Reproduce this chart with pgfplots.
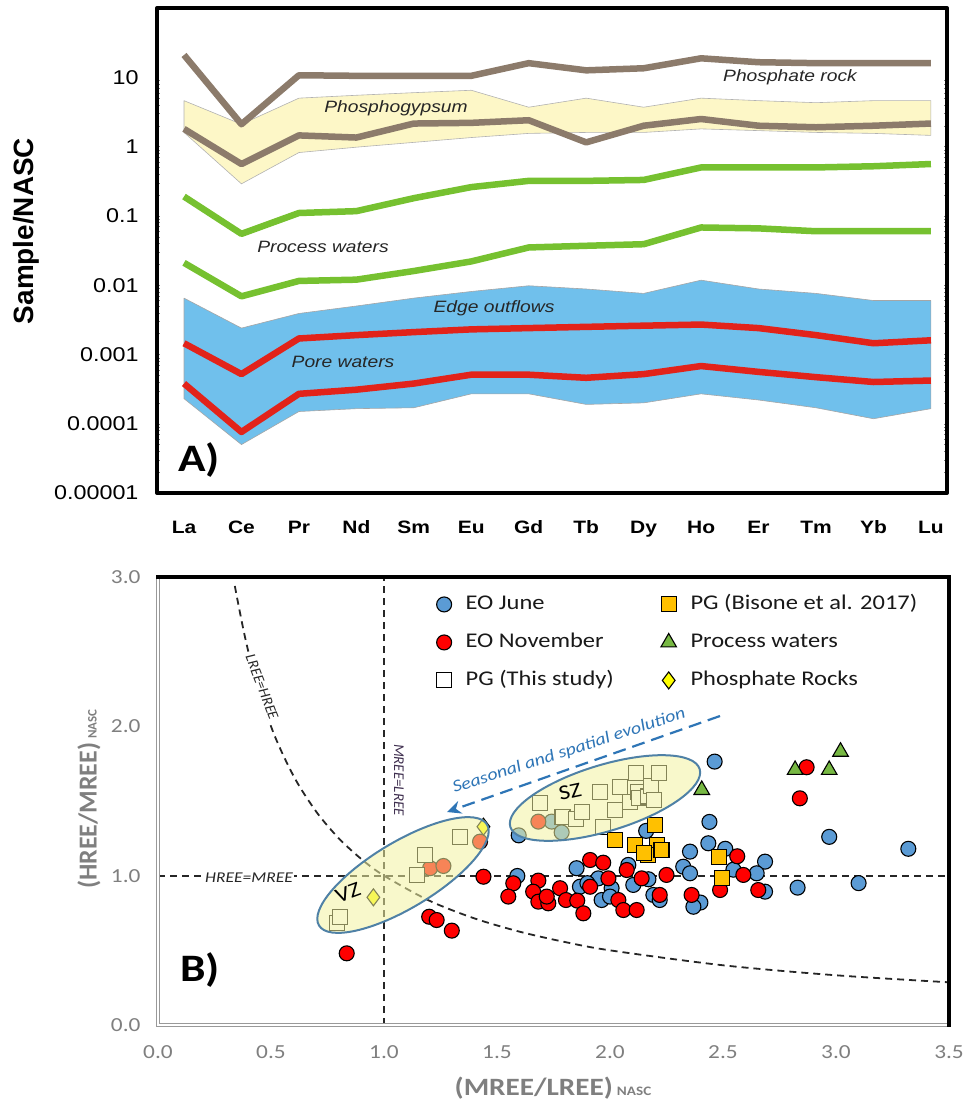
\documentclass[border=0pt]{standalone}
\usepackage{fontspec}
\usepackage{pgfplots}
\pgfplotsset{compat=1.18}
\usetikzlibrary{arrows.meta}
\newfontfamily\calS{Carlito}[FakeStretch=1.17]
\newfontfamily\calR{Carlito}
\newfontfamily\ariS{Liberation Sans}[FakeStretch=1.17]
\newfontfamily\ariR{Liberation Sans}
\definecolor{rockbrown}{HTML}{8C7B6B}
\definecolor{pwgreen}{HTML}{76C130}
\definecolor{porered}{HTML}{E2231A}
\definecolor{eoband}{HTML}{70C0EC}
\definecolor{pgband}{HTML}{FDF7C7}
\definecolor{eoblue}{HTML}{5B9BD5}
\definecolor{eored}{HTML}{FF0000}
\definecolor{pgorange}{HTML}{FFC000}
\definecolor{trigreen}{HTML}{77B843}
\definecolor{diayellow}{HTML}{FFFF00}
\definecolor{ellfill}{HTML}{F2F2A0}
\definecolor{elldraw}{HTML}{4F81A6}
\definecolor{evoblue}{HTML}{2E75B6}
\definecolor{titlegray}{HTML}{7F7F7F}
\begin{document}
\begin{tikzpicture}
\path[use as bounding box] (0bp,0bp) rectangle (963bp,-1106bp);

% ---------------- Panel A ----------------
\begin{axis}[
  at={(157bp,-8bp)}, anchor=north west,
  width=790bp, height=485bp, scale only axis,
  ymode=log, ymin=1e-5, ymax=100,
  xmin=-0.47, xmax=13.28,
  xtick={0,...,13},
  xticklabels={La,Ce,Pr,Nd,Sm,Eu,Gd,Tb,Dy,Ho,Er,Tm,Yb,Lu},
  ytick={1e-5,1e-4,1e-3,1e-2,1e-1,1,10},
  yticklabels={0.00001,0.0001,0.001,0.01,0.1,1,10},
  major tick length=0pt, minor tick num=0,
  axis line style={line width=4bp},
  xticklabel style={font=\ariS\bfseries\fontsize{18}{21}\selectfont, anchor=base, yshift=-40bp},
  yticklabel style={font=\ariS\fontsize{20}{24}\selectfont, anchor=east, xshift=-15bp},
  line join=round,
]
% Phosphogypsum band
\addplot[fill=pgband, draw=gray!60, line width=0.6bp] coordinates {
 (0,4.6)(1,2.1)(2,5)(3,5.5)(4,6)(5,6.5)(6,3.7)(7,5)(8,3.7)(9,5)(10,4.6)(11,4.3)(12,4.6)(13,4.6)
 (13,1.45)(12,1.55)(11,1.6)(10,1.7)(9,1.8)(8,1.6)(7,1.6)(6,1.55)(5,1.35)(4,1.15)(3,0.98)(2,0.82)(1,0.29)(0,1.6)} -- cycle;
% Edge outflows band
\addplot[fill=eoband, draw=gray!70, line width=0.6bp] coordinates {
 (0,0.0065)(1,0.0024)(2,0.0039)(3,0.005)(4,0.0065)(5,0.0081)(6,0.0098)(7,0.0088)(8,0.0076)(9,0.0118)(10,0.0088)(11,0.0076)(12,0.006)(13,0.006)
 (13,0.000165)(12,0.000118)(11,0.00017)(10,0.00022)(9,0.00027)(8,0.0002)(7,0.00019)(6,0.00027)(5,0.00027)(4,0.00017)(3,0.000165)(2,0.00015)(1,0.00005)(0,0.00023)} -- cycle;
% Phosphate rock
\addplot[rockbrown, line width=6.5bp] coordinates {
 (0,21)(1,2.1)(2,10.7)(3,10.5)(4,10.5)(5,10.5)(6,16)(7,12.6)(8,13.5)(9,18.8)(10,16.5)(11,16)(12,16)(13,16)};
% Phosphogypsum line
\addplot[rockbrown, line width=6.5bp] coordinates {
 (0,1.8)(1,0.56)(2,1.45)(3,1.35)(4,2.15)(5,2.2)(6,2.4)(7,1.15)(8,2.0)(9,2.5)(10,2.0)(11,1.9)(12,2.0)(13,2.15)};
% Process waters
\addplot[pwgreen, line width=6.5bp] coordinates {
 (0,0.19)(1,0.055)(2,0.11)(3,0.117)(4,0.18)(5,0.26)(6,0.32)(7,0.32)(8,0.33)(9,0.5)(10,0.5)(11,0.5)(12,0.52)(13,0.56)};
\addplot[pwgreen, line width=6.5bp] coordinates {
 (0,0.021)(1,0.0069)(2,0.0115)(3,0.012)(4,0.016)(5,0.022)(6,0.035)(7,0.037)(8,0.039)(9,0.068)(10,0.066)(11,0.06)(12,0.06)(13,0.06)};
% Pore waters
\addplot[porered, line width=6.5bp] coordinates {
 (0,0.00145)(1,0.00052)(2,0.0017)(3,0.0019)(4,0.0021)(5,0.0023)(6,0.0024)(7,0.0025)(8,0.0026)(9,0.0027)(10,0.0024)(11,0.0019)(12,0.00145)(13,0.0016)};
\addplot[porered, line width=6.5bp] coordinates {
 (0,0.00038)(1,0.000076)(2,0.00027)(3,0.00031)(4,0.00038)(5,0.00051)(6,0.00051)(7,0.00046)(8,0.00052)(9,0.00068)(10,0.00056)(11,0.00047)(12,0.0004)(13,0.00042)};
\end{axis}

% ---------------- Panel B ----------------
\begin{axis}[
  at={(158bp,-577bp)}, anchor=north west,
  width=791bp, height=448bp, scale only axis,
  xmin=0, xmax=3.5, ymin=0, ymax=3,
  xtick={0,0.5,1,1.5,2,2.5,3,3.5},
  xticklabels={0.0,0.5,1.0,1.5,2.0,2.5,3.0,3.5},
  ytick={0,1,2,3},
  yticklabels={0.0,1.0,2.0,3.0},
  major tick length=0pt,
  axis line style={draw=none},
  xticklabel style={font=\calS\fontsize{20}{24}\selectfont, text=titlegray, anchor=base, yshift=-33bp},
  yticklabel style={font=\calS\fontsize{20}{24}\selectfont, text=titlegray, anchor=east, xshift=-14bp},
  legend columns=2,
  legend style={at={(0.352,0.966)}, anchor=north west, draw=none, fill=none, inner sep=0pt,
    font=\calS\fontsize{21}{24}\selectfont, text=black!90,
    nodes={inner sep=2bp, text height=15bp, text depth=5bp},
    row sep=14bp, column sep=12bp,
    /tikz/column 2/.style={column sep=45bp}},
  legend cell align=left,
]
\addlegendimage{only marks, mark=*, mark size=7.5bp, mark options={draw=black, fill=eoblue, line width=1.1bp}}
\addlegendentry{EO June}
\addlegendimage{only marks, mark=square*, mark size=7.5bp, mark options={draw=black, fill=pgorange, line width=1.1bp}}
\addlegendentry{PG (Bisone et al. 2017)}
\addlegendimage{only marks, mark=*, mark size=7.5bp, mark options={draw=black, fill=eored, line width=1.1bp}}
\addlegendentry{EO November}
\addlegendimage{only marks, mark=triangle*, mark size=9bp, mark options={draw=black, fill=trigreen, line width=1.1bp}}
\addlegendentry{Process waters}
\addlegendimage{only marks, mark=square*, mark size=7.5bp, mark options={draw=black, fill=white, line width=1.1bp}}
\addlegendentry{PG (This study)}
\addlegendimage{only marks, mark=diamond*, mark size=8.5bp, mark options={draw=black, fill=diayellow, line width=1.1bp}}
\addlegendentry{Phosphate Rocks}

% reference lines
\addplot[forget plot, black!85, line width=1.8bp, dash pattern=on 7bp off 5bp] coordinates {(1,0)(1,3)};
\addplot[forget plot, black!85, line width=1.8bp, dash pattern=on 7bp off 5bp] coordinates {(0,1)(3.5,1)};
\addplot[forget plot, black!85, line width=1.8bp, dash pattern=on 7bp off 5bp, smooth] coordinates {
 (0.34,2.94)(0.4,2.5)(0.5,2.0)(0.6,1.667)(0.7,1.429)(0.8,1.25)(0.9,1.111)(1.0,1.0)(1.2,0.833)(1.4,0.714)(1.6,0.625)(1.8,0.556)(2.0,0.5)(2.5,0.4)(3.0,0.333)(3.5,0.286)};

% EO June
\addplot[forget plot, only marks, mark=*, mark size=7.5bp, mark options={draw=black, fill=eoblue, line width=1.1bp}] table {
x y
2.463 1.764
1.596 1.270
1.742 1.362
1.786 1.290
2.440 1.360
2.970 1.260
3.320 1.180
3.100 0.950
2.830 0.920
2.435 1.217
2.510 1.180
2.686 1.094
2.649 1.016
2.686 0.893
2.546 1.040
2.400 0.820
2.369 0.792
1.590 0.998
1.852 1.050
1.867 0.926
1.948 0.982
1.963 0.837
2.007 0.916
2.081 1.072
2.103 0.938
2.170 0.976
2.192 0.871
2.220 0.837
2.324 1.060
2.354 1.016
2.354 1.161
2.160 1.300
2.000 0.860
1.900 0.950
};
% EO November
\addplot[forget plot, only marks, mark=*, mark size=7.5bp, mark options={draw=black, fill=eored, line width=1.1bp}] table {
x y
2.870 1.726
2.840 1.518
2.563 1.130
2.590 1.005
2.487 0.904
2.656 0.904
0.835 0.480
1.204 1.050
1.263 1.065
1.200 0.725
1.233 0.703
1.300 0.632
1.425 1.228
1.440 0.993
1.572 0.949
1.550 0.860
1.683 0.967
1.660 0.893
1.683 0.826
1.727 0.815
1.720 0.860
1.779 0.916
1.805 0.837
1.855 0.833
1.882 0.748
1.912 1.105
1.970 1.087
1.912 0.926
1.993 0.982
2.037 0.837
2.059 0.770
2.118 0.770
2.074 1.038
2.140 0.982
2.220 0.871
2.250 1.005
2.361 0.871
1.683 1.362
};
% PG this study
\addplot[forget plot, only marks, mark=square*, mark size=7.5bp, mark options={draw=black, fill=white, line width=1.1bp}] table {
x y
0.791 0.681
0.805 0.725
1.145 1.005
1.181 1.139
1.336 1.261
1.690 1.485
1.790 1.395
1.850 1.380
1.877 1.429
1.957 1.563
1.968 1.328
2.024 1.440
2.046 1.596
2.090 1.496
2.114 1.686
2.125 1.563
2.130 1.520
2.170 1.530
2.180 1.600
2.193 1.507
2.215 1.686
};
% PG Bisone
\addplot[forget plot, only marks, mark=square*, mark size=7.5bp, mark options={draw=black, fill=pgorange, line width=1.1bp}] table {
x y
2.022 1.239
2.110 1.206
2.200 1.340
2.206 1.206
2.170 1.139
2.228 1.172
2.150 1.150
2.483 1.127
2.495 0.982
};
% Process waters
\addplot[forget plot, only marks, mark=triangle*, mark size=9bp, mark options={draw=black, fill=trigreen, line width=1.1bp}] table {
x y
2.406 1.574
2.819 1.708
2.970 1.708
3.020 1.830
};
% Phosphate rocks
\addplot[forget plot, only marks, mark=diamond*, mark size=8.5bp, mark options={draw=black, fill=diayellow, line width=1.1bp}] table {
x y
0.953 0.855
1.440 1.328
};
\end{axis}

% frame of panel B
\draw[gray!80, double=white, line width=1bp, double distance=1.2bp] (158bp,-577bp) -- (158bp,-1025bp) -- (949bp,-1025bp);
\draw[black, line width=3.5bp] (156bp,-577bp) -- (949bp,-577bp) -- (949bp,-1027bp);

% ellipses (VZ and SZ)
\draw[elldraw, line width=2bp, fill=ellfill, fill opacity=0.55, rotate around={31:(403bp,-875bp)}] (403bp,-875bp) ellipse (98bp and 33bp);
\draw[elldraw, line width=2bp, fill=ellfill, fill opacity=0.55, rotate around={17:(605bp,-798bp)}] (605bp,-798bp) ellipse (99bp and 33bp);

% seasonal arrow
\draw[evoblue, line width=2.2bp, dash pattern=on 13bp off 7bp, -{Stealth[length=14bp, width=13bp]}] (720bp,-716bp) -- (447bp,-812bp);
\node[evoblue, rotate=18, font=\calS\itshape\fontsize{17}{20}\selectfont] at (569bp,-751bp) {Seasonal and spatial evolution};

% annotations panel B
\node[fill=white, inner sep=1.5bp, font=\calS\itshape\fontsize{15}{18}\selectfont, text=black!85] at (249bp,-878bp) {HREE=MREE};
\node[fill=white, inner sep=2bp, rotate=-69, font=\calR\itshape\fontsize{15}{18}\selectfont, text=black!85] at (262bp,-687bp) {LREE=HREE};
\node[rotate=-90, font=\calR\itshape\fontsize{15}{18}\selectfont, text={rgb,255:red,64;green,48;blue,80}] at (399bp,-780bp) {MREE=LREE};
\node[rotate=20, font=\calS\fontsize{21}{24}\selectfont] at (348bp,-893bp) {VZ};
\node[rotate=12, font=\calS\fontsize{21}{24}\selectfont] at (570bp,-792bp) {SZ};
\node[font=\calS\bfseries\fontsize{39}{44}\selectfont] at (200bp,-970bp) {B)};

% axis titles panel B
\node[font=\calS\bfseries\fontsize{25}{28}\selectfont, text=titlegray] at (553bp,-1088bp) {(MREE/LREE)\,{\fontsize{13}{15}\selectfont NASC}};
\node[rotate=90, font=\calR\bfseries\fontsize{26}{30}\selectfont, text=titlegray] at (89bp,-799bp) {(HREE/MREE)\,{\fontsize{13}{15}\selectfont NASC}};

% annotations panel A
\node[font=\ariS\itshape\fontsize{16.5}{20}\selectfont, text=black!85] at (790bp,-77bp) {Phosphate rock};
\node[font=\ariS\itshape\fontsize{16.5}{20}\selectfont, text=black!85] at (396bp,-108bp) {Phosphogypsum};
\node[font=\ariS\itshape\fontsize{16.5}{20}\selectfont, text=black!85] at (323bp,-247bp) {Process waters};
\node[font=\ariS\itshape\fontsize{16.5}{20}\selectfont, text=black!85] at (494bp,-308bp) {Edge outflows};
\node[font=\ariS\itshape\fontsize{16.5}{20}\selectfont, text=black!85] at (343bp,-362bp) {Pore waters};
\node[font=\calS\bfseries\fontsize{39}{44}\selectfont] at (199bp,-460bp) {A)};
\node[rotate=90, font=\ariR\bfseries\fontsize{28}{32}\selectfont] at (26bp,-231bp) {Sample/NASC};
\end{tikzpicture}
\end{document}
